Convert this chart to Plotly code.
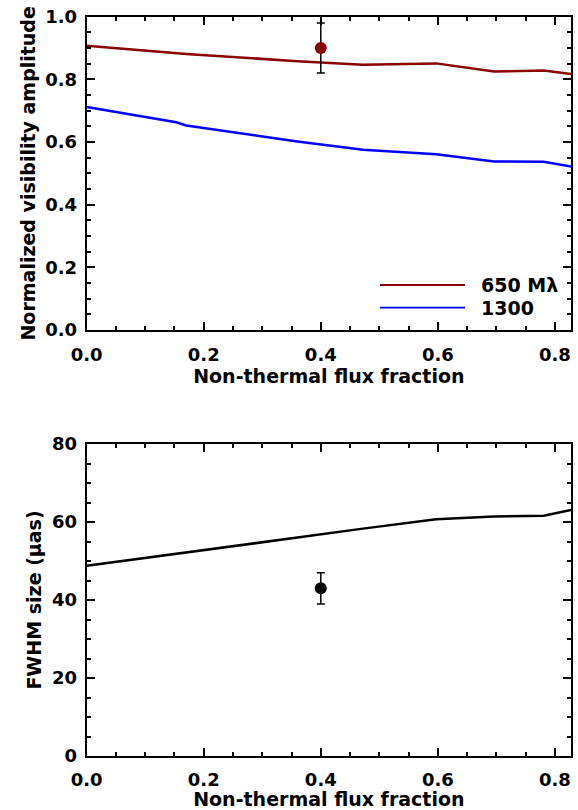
import plotly.graph_objects as go

# ---- data ----
frac = [0.0, 0.153, 0.17, 0.36, 0.472, 0.597, 0.696, 0.781, 0.8275]
vis_650 = [0.907, 0.885, 0.881, 0.858, 0.847, 0.851, 0.825, 0.828, 0.817]
vis_1300 = [0.712, 0.663, 0.653, 0.602, 0.575, 0.561, 0.538, 0.537, 0.522]
fwhm = [48.8, 51.8, 52.1, 56.0, 58.3, 60.7, 61.4, 61.6, 63.1]
series_names = ["650 M\u03bb", "1300"]

obs_frac = [0.4]
obs_vis = [0.90]
obs_vis_err = [0.08]
obs_fwhm = [43.0]
obs_fwhm_err = [4.0]

RED = "#8b0000"
BLUE = "#0000ff"
FONT = "DejaVu Sans, Liberation Sans, Arial, sans-serif"

fig = go.Figure()

fig.add_trace(go.Scatter(x=frac, y=vis_650, mode="lines", line=dict(color=RED, width=2.5),
                         name=series_names[0], xaxis="x", yaxis="y", showlegend=False))
fig.add_trace(go.Scatter(x=frac, y=vis_1300, mode="lines", line=dict(color=BLUE, width=2.5),
                         name=series_names[1], xaxis="x", yaxis="y", showlegend=False))
fig.add_trace(go.Scatter(x=obs_frac, y=obs_vis, mode="markers",
                         marker=dict(color=RED, size=12),
                         error_y=dict(type="data", array=obs_vis_err, color="black", thickness=1.5, width=4),
                         xaxis="x", yaxis="y", showlegend=False))

fig.add_trace(go.Scatter(x=frac, y=fwhm, mode="lines", line=dict(color="black", width=2.5),
                         xaxis="x2", yaxis="y2", showlegend=False))
fig.add_trace(go.Scatter(x=obs_frac, y=obs_fwhm, mode="markers",
                         marker=dict(color="black", size=12),
                         error_y=dict(type="data", array=obs_fwhm_err, color="black", thickness=1.5, width=4),
                         xaxis="x2", yaxis="y2", showlegend=False))

tickfont = dict(family=FONT, size=18, color="black", weight="bold")
titlefont = dict(family=FONT, size=19, color="black", weight="bold")

def ax(**kw):
    d = dict(showline=True, linecolor="black", linewidth=2, mirror="ticks",
             ticks="inside", ticklen=8, tickwidth=1.5, tickcolor="black",
             showgrid=False, zeroline=False, tickfont=tickfont, automargin=False)
    d.update(kw)
    return d

xdom = [86.7 / 578, 571 / 578]
fig.update_layout(
    width=578, height=810,
    margin=dict(l=0, r=0, t=0, b=0),
    paper_bgcolor="white", plot_bgcolor="white",
    xaxis=ax(domain=xdom, range=[0, 0.8275], dtick=0.2, tick0=0, tickformat=".1f",
             anchor="y", ticklabelstandoff=7,
             minor=dict(ticks="inside", ticklen=4, tickwidth=1.5, tickcolor="black", dtick=0.05),
             title=dict(text="Non-thermal flux fraction", font=titlefont, standoff=2)),
    yaxis=ax(domain=[1 - 330 / 810, 1 - 16.7 / 810], range=[0, 1.0], dtick=0.2, tick0=0,
             tickformat=".1f", anchor="x", ticklabelstandoff=4,
             minor=dict(ticks="inside", ticklen=4, tickwidth=1.5, tickcolor="black", dtick=0.05),
             title=dict(text="Normalized visibility amplitude", font=titlefont, standoff=5)),
    xaxis2=ax(domain=xdom, range=[0, 0.8275], dtick=0.2, tick0=0, tickformat=".1f",
              anchor="y2", ticklabelstandoff=6,
              minor=dict(ticks="inside", ticklen=4, tickwidth=1.5, tickcolor="black", dtick=0.05),
              title=dict(text="Non-thermal flux fraction", font=titlefont, standoff=0)),
    yaxis2=ax(domain=[1 - 756 / 810, 1 - 444 / 810], range=[0, 80], dtick=20, tick0=0,
              anchor="x2", ticklabelstandoff=4,
              minor=dict(ticks="inside", ticklen=4, tickwidth=1.5, tickcolor="black", dtick=5),
              title=dict(text="FWHM size (\u03bcas)", font=titlefont, standoff=5)),
)

# legend drawn as line samples + labels inside the top panel
leg_colors = [RED, BLUE]
leg_y = [1 - 285 / 810, 1 - 307.7 / 810]
for name, col, yy in zip(series_names, leg_colors, leg_y):
    fig.add_shape(type="line", xref="paper", yref="paper", x0=380 / 578, x1=465 / 578,
                  y0=yy, y1=yy, line=dict(color=col, width=1.8))
    fig.add_annotation(xref="paper", yref="paper", x=479 / 578, y=yy, text=name,
                       showarrow=False, xanchor="left", yanchor="middle",
                       font=dict(family=FONT, size=19, color="black", weight="bold"))

fig.write_html("out.html")
